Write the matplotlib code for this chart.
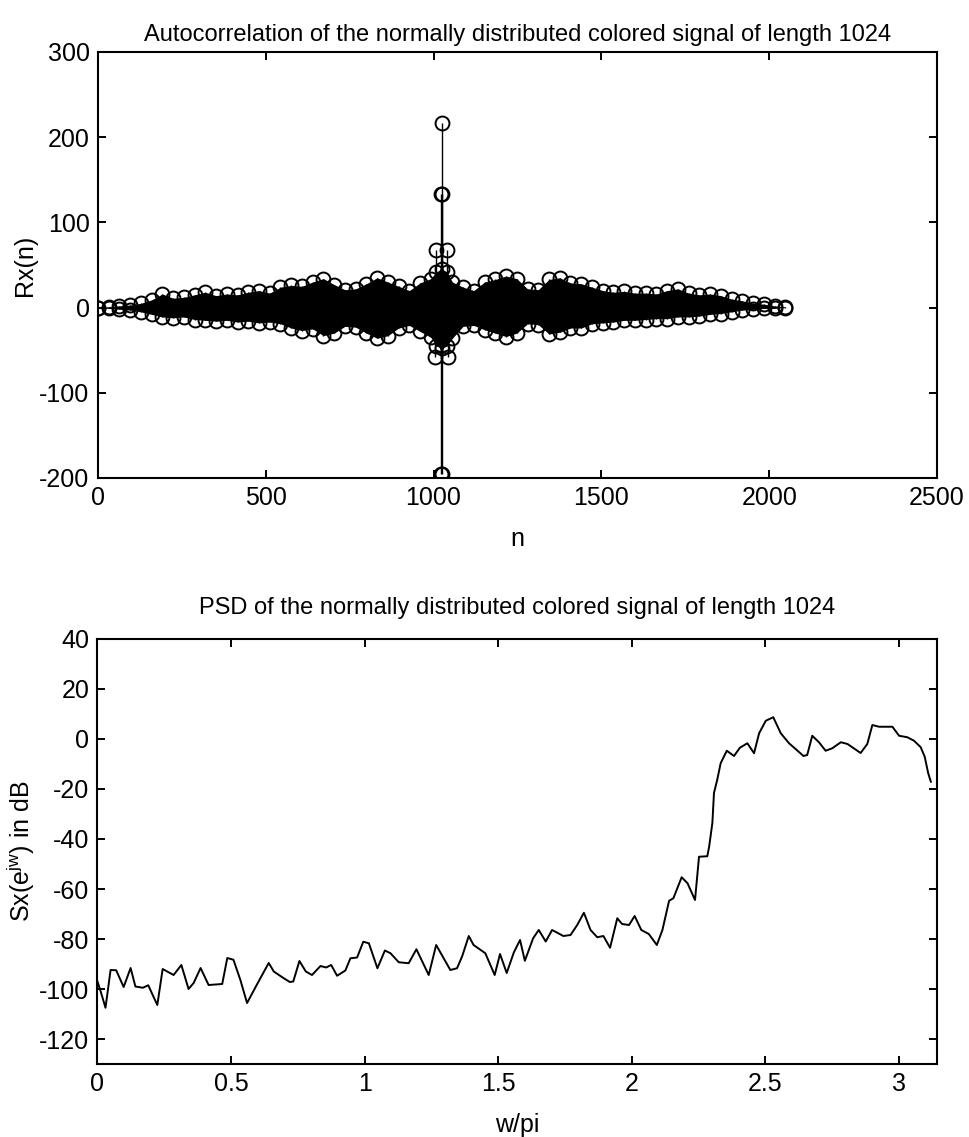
import numpy as np
import matplotlib
matplotlib.use('Agg')
import matplotlib.pyplot as plt

plt.rcParams['font.family'] = ['Liberation Sans', 'DejaVu Sans']
plt.rcParams['mathtext.fontset'] = 'custom'
plt.rcParams['mathtext.rm'] = 'Liberation Sans'
plt.rcParams['mathtext.it'] = 'Liberation Sans'
plt.rcParams['axes.unicode_minus'] = False

# autocorrelation: envelope (upper / lower marker centres)
env_lags = [0, 32, 64, 96, 128, 160, 192, 224, 256, 288, 320, 352, 384, 416, 448, 480,
            512, 544, 576, 608, 640, 672, 704, 736, 768, 800, 832, 864, 896, 928, 960,
            992, 1008, 1024, 1040, 1056, 1088, 1120, 1152, 1184, 1216, 1248, 1280, 1312,
            1344, 1376, 1408, 1440, 1472, 1504, 1536, 1568, 1600, 1632, 1664, 1696, 1728,
            1760, 1792, 1824, 1856, 1888, 1920, 1952, 1984, 2016, 2047]
r_upper = [0, 1, 2, 3, 5, 9, 16, 11, 12, 15, 18, 14, 16, 15, 18, 20,
           17, 24, 26, 25, 30, 34, 27, 21, 22, 28, 35, 30, 25, 20, 29,
           34, 42, 45, 42, 30, 24, 20, 30, 33, 37, 34, 22, 21,
           33, 35, 29, 28, 24, 20, 18, 19, 17, 17, 16, 20, 22,
           17, 15, 16, 14, 10, 8, 5, 4, 2, 1]
r_lower = [0, -1, -2, -3, -5, -8, -11, -12, -11, -14, -15, -16, -15, -17, -16, -18,
           -17, -19, -24, -27, -25, -33, -30, -22, -23, -30, -36, -33, -24, -21, -28,
           -35, -45, -48, -45, -36, -22, -21, -26, -30, -34, -30, -19, -20,
           -31, -29, -24, -24, -19, -18, -17, -15, -15, -14, -13, -13, -11,
           -11, -10, -8, -7, -5, -3, -2, -1, -1, 0]

# the few large lags around zero shift (n = 1024)
peak_lags = [1004, 1008, 1022, 1023, 1024, 1025, 1026, 1040, 1044]
peak_vals = [-58, 68, 133, -195, 217, -195, 133, 68, -58]

# power spectral density
psd_w = [0.0, 0.012, 0.03, 0.04, 0.049, 0.07, 0.098, 0.124, 0.142, 0.17, 0.19, 0.224,
         0.244, 0.285, 0.314, 0.341, 0.36, 0.386, 0.416, 0.467, 0.486, 0.509, 0.535,
         0.56, 0.598, 0.641, 0.66, 0.696, 0.72, 0.733, 0.756, 0.78, 0.803, 0.835,
         0.856, 0.875, 0.897, 0.928, 0.947, 0.972, 0.995, 1.016, 1.048, 1.076, 1.097,
         1.128, 1.165, 1.194, 1.24, 1.268, 1.321, 1.346, 1.365, 1.39, 1.408, 1.452,
         1.487, 1.507, 1.532, 1.559, 1.582, 1.6, 1.631, 1.652, 1.678, 1.702, 1.744,
         1.771, 1.796, 1.821, 1.846, 1.871, 1.894, 1.919, 1.946, 1.964, 1.99, 2.011,
         2.036, 2.064, 2.094, 2.115, 2.14, 2.156, 2.187, 2.209, 2.237, 2.252, 2.283,
         2.29, 2.302, 2.308, 2.32, 2.333, 2.356, 2.383, 2.405, 2.433, 2.458, 2.477,
         2.502, 2.53, 2.558, 2.589, 2.62, 2.643, 2.657, 2.676, 2.701, 2.726, 2.751,
         2.783, 2.808, 2.857, 2.882, 2.901, 2.926, 2.976, 3.001, 3.032, 3.057, 3.082,
         3.097, 3.11, 3.12]
psd_db = [-97, -101, -107.5, -99.6, -92.4, -92.5, -99.2, -91.6, -99, -99.5, -98.5, -106.4,
          -92, -94.4, -90.4, -100, -97.6, -91.6, -98.4, -98, -87.6, -88.3, -96.4,
          -105.6, -98, -89.6, -93, -95.6, -97.2, -97, -88.8, -93, -94.4, -90.8,
          -91.4, -90.4, -94.7, -92.6, -87.7, -87.4, -81.1, -81.7, -91.7, -84.6, -85.7,
          -89.3, -89.7, -84.1, -94.4, -82.4, -92.4, -91.7, -87, -78.8, -82.4, -85.7,
          -94.4, -86, -93.6, -85.3, -80.4, -88.7, -79.7, -76.4, -81, -76.4, -78.8,
          -78.4, -74.4, -69.5, -76.4, -79.3, -78.8, -83.5, -71.7, -74, -74.4, -70.8,
          -76.4, -78, -82.4, -76.4, -64.7, -63.7, -55.3, -57.7, -64.4, -47.1, -46.9,
          -43, -33.6, -21.6, -16.4, -9.7, -4.7, -6.8, -3.5, -1.7, -5.7, 2.3,
          7.3, 8.7, 2.3, -1.7, -4.6, -6.8, -6.4, 1.3, -1.3, -4.7, -3.7,
          -1.3, -2, -5.6, -2, 5.6, 4.9, 4.9, 1.3, 0.7, -0.7, -3.3,
          -7.1, -13.7, -17.1]

fs = 18

fig = plt.figure(figsize=(9.69, 11.37), dpi=100)
ax1 = fig.add_axes([0.101, 0.5796, 0.866, 0.3747])
ax2 = fig.add_axes([0.1006, 0.0642, 0.866, 0.3738])

# top: stem plot of the autocorrelation
ax1.fill_between(env_lags, r_lower, r_upper, color='k', lw=0)
for vals in (r_upper, r_lower):
    ml, sl, bl = ax1.stem(env_lags, vals, linefmt='k-', markerfmt='ko', basefmt=' ')
    ml.set_markerfacecolor('none')
    ml.set_markersize(10)
    ml.set_markeredgewidth(1.4)
    sl.set_linewidth(1.0)
ml, sl, bl = ax1.stem(peak_lags, peak_vals, linefmt='k-', markerfmt='ko', basefmt=' ')
ml.set_markerfacecolor('none')
ml.set_markersize(10)
ml.set_markeredgewidth(1.4)
sl.set_linewidth(1.0)

ax1.set_xlim(0, 2500)
ax1.set_ylim(-200, 300)
ax1.set_xticks(np.arange(0, 2501, 500))
ax1.set_yticks(np.arange(-200, 301, 100))
ax1.set_title('Autocorrelation of the normally distributed colored signal of length 1024',
              fontsize=17, pad=8)
ax1.set_xlabel('n', fontsize=fs, labelpad=12)
ax1.set_ylabel('Rx(n)', fontsize=fs)
ax1.yaxis.set_label_coords(-0.072, 0.5)

# bottom: PSD in dB
ax2.plot(psd_w, psd_db, color='k', lw=1.4)
ax2.set_xlim(0, np.pi)
ax2.set_ylim(-130, 40)
ax2.set_xticks([0, 0.5, 1, 1.5, 2, 2.5, 3])
ax2.set_xticklabels(['0', '0.5', '1', '1.5', '2', '2.5', '3'])
ax2.set_yticks(np.arange(-120, 41, 20))
ax2.set_title('PSD of the normally distributed colored signal of length 1024',
              fontsize=17, pad=18)
ax2.set_xlabel('w/pi', fontsize=fs, labelpad=12)
ax2.set_ylabel(r'Sx(e$^{\rm jw}$) in dB', fontsize=fs)
ax2.yaxis.set_label_coords(-0.072, 0.5)

for ax in (ax1, ax2):
    ax.tick_params(direction='in', length=6, width=1.4, labelsize=fs,
                   top=True, right=True, pad=6)
    for sp in ax.spines.values():
        sp.set_linewidth(1.5)

fig.savefig('out.png', dpi=100)
